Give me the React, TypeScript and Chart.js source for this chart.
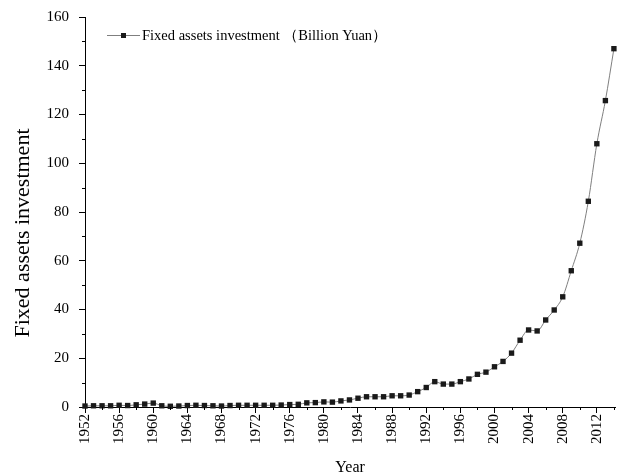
import React, { useEffect, useRef } from "react";
import { Chart, registerables } from "chart.js";

Chart.register(...registerables);

const years: number[] = [
  1952, 1953, 1954, 1955, 1956, 1957, 1958, 1959, 1960, 1961, 1962, 1963, 1964, 1965, 1966, 1967,
  1968, 1969, 1970, 1971, 1972, 1973, 1974, 1975, 1976, 1977, 1978, 1979, 1980, 1981, 1982, 1983,
  1984, 1985, 1986, 1987, 1988, 1989, 1990, 1991, 1992, 1993, 1994, 1995, 1996, 1997, 1998, 1999,
  2000, 2001, 2002, 2003, 2004, 2005, 2006, 2007, 2008, 2009, 2010, 2011, 2012, 2013, 2014,
];

const investment: number[] = [
  0.4, 0.5, 0.5, 0.5, 0.7, 0.6, 0.9, 1.2, 1.6, 0.5, 0.3, 0.4, 0.6, 0.7, 0.6, 0.5,
  0.4, 0.6, 0.7, 0.7, 0.7, 0.7, 0.7, 0.8, 1.0, 1.1, 1.7, 1.8, 2.1, 2.0, 2.5, 2.9,
  3.6, 4.2, 4.2, 4.2, 4.6, 4.6, 4.9, 6.3, 8.0, 10.4, 9.4, 9.4, 10.4, 11.5, 13.4, 14.3,
  16.5, 18.7, 22.1, 27.4, 31.6, 31.2, 35.7, 39.8, 45.2, 55.9, 67.2, 84.4, 108.0, 125.7, 147.0,
];

const seriesLabel = "Fixed assets investment （Billion Yuan）";
const yTitle = "Fixed assets investment";
const xTitle = "Year";
const yTickValues: number[] = [0, 20, 40, 60, 80, 100, 120, 140, 160];
const xLabelStep = 4;

const FONT = "'Liberation Serif', 'Times New Roman', serif";

const extrasPlugin = {
  id: "extras",
  afterDraw(chart: any) {
    const { ctx, chartArea, scales } = chart;
    const x = scales.x;
    const y = scales.y;
    ctx.save();
    ctx.strokeStyle = "#000";
    ctx.lineWidth = 1;
    x.ticks.forEach((t: any) => {
      if ((t.value - years[0]) % xLabelStep !== 0) {
        const px = Math.round(x.getPixelForValue(t.value)) + 0.5;
        ctx.beginPath();
        ctx.moveTo(px, chartArea.bottom);
        ctx.lineTo(px, chartArea.bottom + 3);
        ctx.stroke();
      }
    });
    y.ticks.forEach((t: any) => {
      if (!yTickValues.includes(t.value)) {
        const py = Math.round(y.getPixelForValue(t.value)) + 0.5;
        ctx.beginPath();
        ctx.moveTo(chartArea.left, py);
        ctx.lineTo(chartArea.left - 3, py);
        ctx.stroke();
      }
    });
    ctx.fillStyle = "#000";
    ctx.font = `22px ${FONT}`;
    ctx.textAlign = "center";
    ctx.textBaseline = "middle";
    ctx.translate(23, 233);
    ctx.rotate(-Math.PI / 2);
    ctx.fillText(yTitle, 0, 0);
    ctx.restore();

    ctx.save();
    const lx = chartArea.left + 22;
    const ly = chartArea.top + 18.5;
    ctx.strokeStyle = "#7f7f7f";
    ctx.lineWidth = 1;
    ctx.beginPath();
    ctx.moveTo(lx, ly);
    ctx.lineTo(lx + 33, ly);
    ctx.stroke();
    ctx.fillStyle = "#1a1a1a";
    ctx.fillRect(lx + 14, ly - 2.5, 5, 5);
    ctx.fillStyle = "#000";
    ctx.font = `14.5px ${FONT}`;
    ctx.textAlign = "left";
    ctx.textBaseline = "middle";
    ctx.fillText(seriesLabel, lx + 35, ly + 1);
    ctx.restore();
  },
};

export default function App() {
  const canvasRef = useRef<HTMLCanvasElement | null>(null);

  useEffect(() => {
    if (!canvasRef.current) return;
    Chart.defaults.font.family = FONT;
    const chart = new Chart(canvasRef.current, {
      type: "line",
      data: {
        datasets: [
          {
            label: seriesLabel,
            data: years.map((yr, i) => ({ x: yr, y: investment[i] })),
            borderColor: "#7f7f7f",
            borderWidth: 1,
            pointStyle: "rect",
            pointRadius: 3.8,
            pointHoverRadius: 3.8,
            pointBackgroundColor: "#1a1a1a",
            pointBorderWidth: 0,
            cubicInterpolationMode: "monotone",
            clip: false,
          } as any,
        ],
      },
      options: {
        animation: false,
        responsive: true,
        maintainAspectRatio: false,
        layout: { padding: { top: 17, right: 0, left: 0, bottom: 0 } },
        plugins: {
          legend: { display: false },
          tooltip: { enabled: false },
        },
        events: [],
        scales: {
          x: {
            type: "linear",
            min: years[0],
            max: 2014.15,
            afterFit: (s: any) => {
              s.height = 67;
              s.paddingLeft = 0;
              s.paddingRight = 0;
            },
            ticks: {
              stepSize: 2,
              includeBounds: false,
              autoSkip: false,
              maxRotation: 90,
              minRotation: 90,
              padding: 1,
              color: "#000",
              font: { size: 15, family: FONT },
              callback: (v: any) =>
                (Number(v) - years[0]) % xLabelStep === 0 ? String(v) : "",
            },
            grid: {
              display: true,
              drawOnChartArea: false,
              drawTicks: true,
              tickLength: 6,
              tickColor: (c: any) =>
                c.tick && (c.tick.value - years[0]) % xLabelStep === 0 ? "#000" : "rgba(0,0,0,0)",
            },
            border: { display: true, color: "#000", width: 1 },
            title: {
              display: true,
              text: xTitle,
              color: "#000",
              font: { size: 16, family: FONT },
              padding: { top: 0, bottom: -3 },
            },
          },
          y: {
            type: "linear",
            min: 0,
            max: 160,
            afterFit: (s: any) => {
              s.width = 85;
              s.paddingTop = 0;
              s.paddingBottom = 0;
            },
            ticks: {
              stepSize: 10,
              padding: 10,
              color: "#000",
              font: { size: 15, family: FONT },
              callback: (v: any) => (yTickValues.includes(Number(v)) ? String(v) : ""),
            },
            grid: {
              display: true,
              drawOnChartArea: false,
              drawTicks: true,
              tickLength: 6,
              tickColor: (c: any) =>
                c.tick && yTickValues.includes(c.tick.value) ? "#000" : "rgba(0,0,0,0)",
            },
            border: { display: true, color: "#000", width: 1 },
          },
        },
      },
      plugins: [extrasPlugin],
    });
    return () => chart.destroy();
  }, []);

  return (
    <div style={{ position: "absolute", left: 0, top: 0, width: 619, height: 474 }}>
      <canvas ref={canvasRef} />
    </div>
  );
}
